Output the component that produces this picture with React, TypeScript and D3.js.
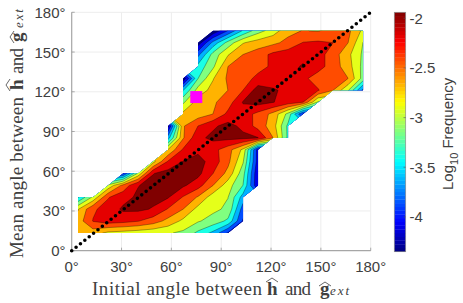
import React from 'react';
import * as d3 from 'd3';

const angleTicks = [0, 30, 60, 90, 120, 150, 180];
const barTicks = [-2, -2.5, -3, -3.5, -4];
const barRange = [-4.35, -1.94];
const levelCount = 11;

// grid the frequencies were binned on (degrees)
const firstColDeg = 3.8;
const lastColDeg = 175.4;
const firstRowDeg = 13.4;
const lastRowDeg = 166;
const colCount = 20;

// the measured point
const markerAngle = [75, 116];

// first filled column of each row, bottom row first
const rowFirstCol = [0, 0, 0, 0, 2, 3, 5, 6, 6, 6, 7, 7, 7, 7, 8, 8, 8, 9];

const logFreq = [
  [-2.5, -2.55, -2.72, -2.76, -2.8, -2.84, -2.88, -2.95, -3.2, -3.45, -3.9],
  [-2.55, -2.17, -2.06, -2.1, -2.17, -2.3, -2.5, -2.72, -2.88, -3.0, -3.2, -3.9],
  [-2.68, -2.22, -2.08, -1.9, -1.89, -1.96, -2.2, -2.42, -2.75, -2.85, -2.95, -3.75],
  [-3.4, -2.85, -2.2, -2.02, -1.9, -1.87, -1.92, -2.2, -2.45, -2.8, -2.9, -3.5],
  [-2.85, -2.35, -1.95, -1.86, -1.84, -1.9, -2.08, -2.42, -2.8, -3.15, -4.1],
  [-3.9, -2.85, -1.95, -1.84, -1.82, -1.87, -2.18, -2.5, -3.05, -4.1],
  [-2.75, -2.15, -1.93, -1.84, -2.05, -2.36, -2.88, -4.0],
  [-2.65, -2.15, -2.0, -2.1, -2.32, -2.72, -4.0],
  [-3.5, -2.45, -2.0, -1.88, -1.87, -1.88, -1.93, -2.42, -3.2],
  [-4.2, -2.45, -2.18, -1.98, -1.86, -2.0, -2.28, -2.55, -3.2],
  [-2.6, -2.55, -2.42, -2.12, -2.06, -2.25, -2.5, -2.98, -3.9],
  [-2.95, -2.55, -2.46, -2.3, -1.92, -1.85, -1.93, -2.05, -2.18, -2.95],
  [-3.4, -2.8, -2.58, -2.42, -2.18, -1.82, -1.9, -2.02, -2.05, -2.16, -2.42, -2.88, -3.7],
  [-4.3, -3.15, -2.68, -2.38, -2.28, -2.12, -2.12, -2.08, -2.12, -2.3, -2.35, -2.42, -3.0],
  [-3.3, -2.95, -2.42, -2.38, -2.26, -2.14, -2.0, -1.92, -2.08, -2.3, -2.55, -2.98],
  [-3.7, -3.05, -2.68, -2.42, -2.3, -2.12, -2.05, -2.0, -2.08, -2.3, -2.6, -2.95],
  [-4.25, -3.55, -3.05, -2.68, -2.55, -2.48, -2.35, -2.17, -2.14, -2.18, -2.42, -2.91],
  [-4.3, -3.85, -3.35, -3.0, -2.78, -2.5, -2.41, -2.44, -2.3, -2.36, -2.72],
];

const WIDTH = 463;
const HEIGHT = 303;

// MATLAB's jet
const jet = (t: number) => {
  const c = (v: number) => Math.round(255 * Math.max(0, Math.min(1, v)));
  const r = 1.5 - Math.abs(4 * t - 3);
  const g = 1.5 - Math.abs(4 * t - 2);
  const b = 1.5 - Math.abs(4 * t - 1);
  return `rgb(${c(r)},${c(g)},${c(b)})`;
};

const x = d3.scaleLinear().domain([0, 180]).range([71.7, 370.7]);
const y = d3.scaleLinear().domain([0, 180]).range([250.7, 12.3]);
const barY = d3.scaleLinear().domain(barRange).range([251.7, 12.3]);
const colPx = d3.scaleLinear().domain([0, colCount - 1]).range([x(firstColDeg), x(lastColDeg)]);
const rowPx = d3.scaleLinear().domain([0, logFreq.length - 1]).range([y(firstRowDeg), y(lastRowDeg)]);

const isValid = (r: number, c: number) =>
  r >= 0 && r < logFreq.length && c >= rowFirstCol[r] && c < rowFirstCol[r] + logFreq[r].length;

// rows padded sideways so the contours run past the cut-outs, clip trims them
const padded = logFreq.flatMap((row, r) =>
  d3.range(colCount).map((c) => {
    const i = c - rowFirstCol[r];
    return row[Math.max(0, Math.min(row.length - 1, i))];
  })
);

const levels = d3.range(levelCount).map((i) =>
  barRange[0] + ((barRange[1] - barRange[0]) * i) / (levelCount - 1)
);
const bands = d3.contours().size([colCount, logFreq.length]).thresholds(levels)(padded);

const gridProjection = d3.geoTransform({
  point(px: number, py: number) {
    (this as any).stream.point(colPx(px - 0.5), rowPx(py - 0.5));
  },
});
const bandPath = d3.geoPath(gridProjection);

// union of grid cells with at least 3 valid corners, same as contourf leaves them
const clipD = d3
  .range(logFreq.length - 1)
  .flatMap((r) =>
    d3.range(colCount - 1).map((c) => {
      const corners = [
        [r, c],
        [r, c + 1],
        [r + 1, c + 1],
        [r + 1, c],
      ].filter(([a, b]) => isValid(a, b));
      if (corners.length < 3) return '';
      return d3.line()(corners.map(([a, b]) => [colPx(b), rowPx(a)] as [number, number])) + 'Z';
    })
  )
  .join('');

const diagonal = d3.line()([
  [x(0), y(0)],
  [x(180), y(180)],
]) as string;

const TEXT = '#404040';
const SERIF = '"Liberation Serif", serif';
const SANS = '"Liberation Sans", sans-serif';

const Hat = ({ cx, cy, w = 12 }: { cx: number; cy: number; w?: number }) => (
  <path
    d={`M${cx - w / 2},${cy}L${cx},${cy - 4}L${cx + w / 2},${cy}`}
    fill="none"
    stroke={TEXT}
    strokeWidth={0.8}
  />
);

// LaTeX-style label, every piece stretched to where Computer Modern put it
const MathLabel = ({ lead, leadLen, h, and, g, ext }: any) => (
  <g fontFamily={SERIF} fontSize={19} fill={TEXT}>
    <text x={0} y={0} textLength={leadLen}>
      {lead}
    </text>
    <text x={h} y={0} fontWeight="bold">
      h
    </text>
    <text x={and} y={0} textLength={26}>
      and
    </text>
    <text x={g} y={0} fontWeight="bold">
      g
    </text>
    <text x={ext} y={0} fontStyle="italic" fontSize={13} textLength={19}>
      ext
    </text>
    <Hat cx={h + 5} cy={-13} />
    <Hat cx={g + 5} cy={-9} />
  </g>
);

export default function App() {
  const barSteps = d3.range(64);
  const stepH = (barY(barRange[0]) - barY(barRange[1])) / barSteps.length;
  return (
    <svg
      width={WIDTH}
      height={HEIGHT}
      style={{ position: 'fixed', left: 0, top: 0, display: 'block', background: '#fff' }}
    >
      <defs>
        <clipPath id="dataMask">
          <path d={clipD} />
        </clipPath>
      </defs>

      {/* grid */}
      {angleTicks.slice(1).map((t) => (
        <g key={t} stroke="#ededed" strokeWidth={1}>
          <line x1={x(t)} x2={x(t)} y1={y(0)} y2={y(180)} />
          <line x1={x(0)} x2={x(180)} y1={y(t)} y2={y(t)} />
        </g>
      ))}

      {/* filled contours */}
      <g clipPath="url(#dataMask)">
        <rect x={60} y={0} width={320} height={260} fill={jet(0)} />
        {bands.map((b, i) => (
          <path
            key={i}
            d={bandPath(b as any) || ''}
            fill={jet(i / (levelCount - 1))}
            stroke="#000"
            strokeOpacity={0.65}
            strokeWidth={0.5}
          />
        ))}
      </g>

      {/* axes */}
      <line x1={x(0)} x2={x(0)} y1={y(0) + 0.5} y2={y(180)} stroke="#a6a6a6" strokeWidth={1.2} />
      <line x1={x(0)} x2={x(180)} y1={y(0)} y2={y(0)} stroke="#a6a6a6" strokeWidth={1.2} />
      {angleTicks.map((t) => (
        <g key={t} stroke="#8c8c8c" strokeWidth={0.7}>
          <line x1={x(t)} x2={x(t)} y1={y(0)} y2={y(0) - 3} />
          <line x1={x(0)} x2={x(0) + 3} y1={y(t)} y2={y(t)} />
        </g>
      ))}
      <g fontFamily={SANS} fontSize={15} fill={TEXT}>
        {angleTicks.map((t) => (
          <text key={t} x={x(t)} y={272} textAnchor="middle">
            {t}°
          </text>
        ))}
        {angleTicks.map((t) => (
          <text key={t} x={65.5} y={y(t) + 5.5} textAnchor="end">
            {t}°
          </text>
        ))}
      </g>

      {/* axis labels */}
      <g transform="translate(92,295)">
        <MathLabel lead="Initial angle between" leadLen={170} h={175} and={193} g={228} ext={238} />
      </g>
      <g transform="translate(23,258) rotate(-90)">
        <MathLabel lead="Mean angle between" leadLen={161} h={168} and={184} g={216} ext={230} />
      </g>

      {/* diagonal and marker */}
      <path d={diagonal} stroke="#000" strokeWidth={3.6} strokeLinecap="round" strokeDasharray="0 5.6" fill="none" />
      <rect x={x(markerAngle[0]) - 6} y={y(markerAngle[1]) - 6} width={12} height={12} fill="#ff00ff" />

      {/* colorbar */}
      {barSteps.map((i) => (
        <rect
          key={i}
          x={394.3}
          y={barY(barRange[0]) - (i + 1) * stepH}
          width={11.4}
          height={stepH + 0.3}
          fill={jet((i + 0.5) / barSteps.length)}
        />
      ))}
      <rect
        x={394.3}
        y={barY(barRange[1])}
        width={11.4}
        height={barY(barRange[0]) - barY(barRange[1])}
        fill="none"
        stroke="#8c8c8c"
        strokeWidth={0.7}
      />
      {barTicks.map((t) => (
        <g key={t}>
          <line x1={403.5} x2={405.7} y1={barY(t)} y2={barY(t)} stroke="#555" strokeWidth={0.6} />
          <text x={409.5} y={barY(t) + 5.5} fontFamily={SANS} fontSize={15} fill={TEXT}>
            {t}
          </text>
        </g>
      ))}
      <text
        transform="translate(453,190) rotate(-90)"
        fontFamily={SANS}
        fontSize={15}
        fill={TEXT}
      >
        Log
        <tspan fontSize={11} dy={5}>
          10
        </tspan>
        <tspan dy={-5}> Frequency</tspan>
      </text>
    </svg>
  );
}
